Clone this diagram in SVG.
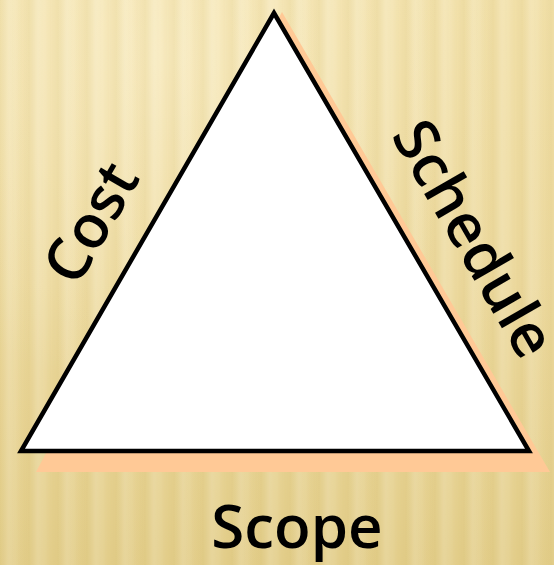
<svg xmlns="http://www.w3.org/2000/svg" width="554" height="565" viewBox="0 0 554 565">
  <defs>
    <linearGradient id="bg" x1="0" y1="0" x2="0" y2="1">
      <stop offset="0" stop-color="#F2E1AA"/>
      <stop offset="0.5" stop-color="#EDDA9F"/>
      <stop offset="1" stop-color="#E3CE8A"/>
    </linearGradient>
    <radialGradient id="glow" cx="0.3" cy="0.1" r="0.6">
      <stop offset="0" stop-color="#FFF6D8" stop-opacity="0.45"/>
      <stop offset="1" stop-color="#FFF6D8" stop-opacity="0"/>
    </radialGradient>
    <linearGradient id="stripe" x1="0" y1="0" x2="1" y2="0">
      <stop offset="0" stop-color="#C9AE5E" stop-opacity="0.12"/>
      <stop offset="0.3" stop-color="#FFFFFF" stop-opacity="0.14"/>
      <stop offset="0.55" stop-color="#FFFFFF" stop-opacity="0.08"/>
      <stop offset="0.8" stop-color="#C9AE5E" stop-opacity="0.05"/>
      <stop offset="1" stop-color="#C9AE5E" stop-opacity="0.12"/>
    </linearGradient>
    <pattern id="stripes" x="0" y="0" width="29" height="565" patternUnits="userSpaceOnUse">
      <rect width="29" height="565" fill="url(#stripe)"/>
    </pattern>
    <style>
      .lbl { font-family: "Open Sans", "Noto Sans", "Liberation Sans", sans-serif; font-size: 60px; font-weight: 600; fill: #000; }
    </style>
  </defs>
  <rect width="554" height="565" fill="url(#bg)"/>
  <rect width="554" height="565" fill="url(#glow)"/>
  <rect width="554" height="565" fill="url(#stripes)"/>
  <g id="triangle">
    <polygon points="282,12 36,472 550,472" fill="#FFC996"/>
    <polygon points="274,13 21,451 529,451" fill="#FFFFFF" stroke="#000" stroke-width="4.5" stroke-linejoin="miter"/>
  </g>
  <g id="cost">
    <text class="lbl" text-anchor="middle" transform="translate(109,233) rotate(-60)">Cost</text>
  </g>
  <g id="schedule">
    <text class="lbl" text-anchor="middle" transform="translate(456,249) rotate(60)" font-size="63">Schedule</text>
  </g>
  <g id="scope">
    <text class="lbl" text-anchor="middle" x="297" y="548">Scope</text>
  </g>
</svg>
